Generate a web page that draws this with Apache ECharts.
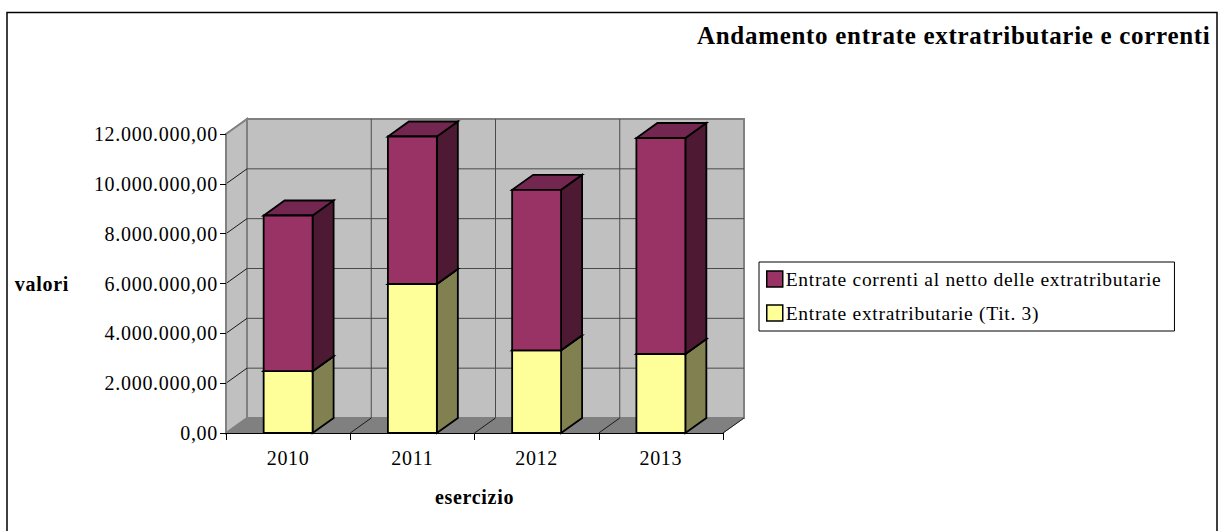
<!DOCTYPE html>
<html><head><meta charset="utf-8">
<style>html,body{margin:0;padding:0;background:#fff}#c{width:1218px;height:531px}#c text{letter-spacing:.7px}</style>
<script src="https://cdn.jsdelivr.net/npm/echarts@6/dist/echarts.min.js"></script>
</head><body><div id="c"></div>
<script>
var categories = ['2010','2011','2012','2013'];
var extratributarie = [2480000, 5980000, 3320000, 3170000];
var correnti = [6250000, 5920000, 6440000, 8670000];
var axisTicks = [0, 2000000, 4000000, 6000000, 8000000, 10000000, 12000000];
var seriesNames = ['Entrate correnti al netto delle extratributarie', 'Entrate extratributarie (Tit. 3)'];
var titleText = 'Andamento entrate extratributarie e correnti';
var yName = 'valori', xName = 'esercizio';

var DX = 21, DY = 15, BAR_RATIO = 0.394;
var SERIF = '"Liberation Serif","Times New Roman",serif';
function fmt(v){
  var s = String(Math.round(v)).replace(/\B(?=(\d{3})+$)/g, '.');
  return s + ',00';
}
function poly(pts, fill, stroke, lw){
  return {type:'polygon', shape:{points:pts}, style:{fill:fill, stroke:stroke, lineWidth:lw, lineJoin:'miter'}};
}
function line(a, b, stroke, lw){
  return {type:'line', shape:{x1:a[0],y1:a[1],x2:b[0],y2:b[1]}, style:{stroke:stroke, lineWidth:lw, fill:null}};
}
function wallRender(params, api){
  var n = categories.length;
  var yMin = axisTicks[0], yMax = axisTicks[axisTicks.length-1];
  var bl = api.coord([0, yMin]), tl = api.coord([0, yMax]);
  var band = api.size([1,0])[0];
  var left = bl[0] - band/2, right = left + band*n;
  var y0 = bl[1], y1 = tl[1];
  var kids = [];
  kids.push(poly([[left,y0],[left+DX,y0-DY],[left+DX,y1-DY],[left,y1]], '#c0c0c0', '#808080', 2));
  kids.push(poly([[left+DX,y1-DY],[right+DX,y1-DY],[right+DX,y0-DY],[left+DX,y0-DY]], '#c0c0c0', '#808080', 2));
  kids.push(poly([[left,y0],[right,y0],[right+DX,y0-DY],[left+DX,y0-DY]], '#808080', '#808080', 1));
  axisTicks.forEach(function(t){
    var y = api.coord([0,t])[1];
    if (t !== yMin && t !== yMax) {
      kids.push(line([left+DX,y-DY],[right+DX,y-DY],'#4a4a4a',1));
      kids.push(line([left,y],[left+DX,y-DY],'#1a1a1a',1));
    }
  });
  for (var i=1;i<=n;i++){
    var x = left + band*i;
    kids.push(line([x,y0],[x+DX,y0-DY],'#1a1a1a',1));
    if (i<n) kids.push(line([x+DX,y1-DY],[x+DX,y0-DY],'#4a4a4a',1));
  }
  return {type:'group', children:kids};
}
function barRender(front, top, side){
  return function(params, api){
    var c = api.value(0), a = api.value(1), b = api.value(2);
    var p0 = api.coord([c,a]), p1 = api.coord([c,b]);
    var w = api.size([1,0])[0]*BAR_RATIO;
    var l = p0[0]-w/2, r = p0[0]+w/2, yb = p0[1], yt = p1[1];
    var S='#000', LW=1.8;
    return {type:'group', children:[
      poly([[r,yb],[r+DX,yb-DY],[r+DX,yt-DY],[r,yt]], side, S, LW),
      poly([[l,yt],[r,yt],[r+DX,yt-DY],[l+DX,yt-DY]], top, S, LW),
      poly([[l,yb],[r,yb],[r,yt],[l,yt]], front, S, LW)
    ]};
  };
}
var lower = categories.map(function(c,i){return [i,0,extratributarie[i]];});
var upper = categories.map(function(c,i){return [i,extratributarie[i],extratributarie[i]+correnti[i]];});

var chart = echarts.init(document.getElementById('c'), null, {renderer:'svg'});
chart.setOption({
  animation:false,
  backgroundColor:'#fff',
  title:{text:titleText,left:697,top:23,padding:0,textStyle:{fontFamily:SERIF,fontWeight:'bold',fontSize:25,color:'#000'}},
  legend:{
    orient:'vertical',left:759,top:262,padding:[7,46,8,7],itemGap:14,itemWidth:16,itemHeight:16,
    borderColor:'#000',borderWidth:1,align:'left',selectedMode:false,
    textStyle:{fontFamily:SERIF,fontSize:19.5,color:'#000',padding:[0,0,0,-2]},
    data:[
      {name:seriesNames[0],icon:'rect',itemStyle:{color:'#993366',borderColor:'#000',borderWidth:1.5}},
      {name:seriesNames[1],icon:'rect',itemStyle:{color:'#ffff99',borderColor:'#000',borderWidth:1.5}}
    ]
  },
  grid:{left:226,right:495,top:134,bottom:98,containLabel:false,outerBoundsMode:'none'},
  xAxis:{type:'category',data:categories,z:2,name:xName,nameLocation:'middle',nameGap:54,
    nameTextStyle:{fontFamily:SERIF,fontWeight:'bold',fontSize:20,color:'#000'},
    axisLine:{lineStyle:{color:'#000',width:1}},axisTick:{show:true,length:7,alignWithLabel:false,lineStyle:{color:'#000'}},
    axisLabel:{fontFamily:SERIF,fontSize:20,color:'#000',margin:15},splitLine:{show:false}},
  yAxis:{type:'value',min:0,max:12000000,interval:2000000,z:2,name:yName,nameLocation:'middle',nameRotate:0,nameGap:157,
    nameTextStyle:{fontFamily:SERIF,fontWeight:'bold',fontSize:20,color:'#000'},
    axisLine:{show:true,lineStyle:{color:'#808080',width:2}},axisTick:{show:true,length:6,lineStyle:{color:'#000'}},
    axisLabel:{fontFamily:SERIF,fontSize:20,color:'#000',margin:8,formatter:fmt},splitLine:{show:false}},
  graphic:[{type:'polyline',silent:true,z:-1,shape:{points:[[7,531],[7,12.5],[1217,12.5],[1217,531]]},style:{fill:'none',stroke:'#000',lineWidth:1.5}}],
  series:[
    {type:'custom',name:'wall',z:1,silent:true,renderItem:wallRender,data:[[0,0,0]],encode:{x:0,y:1},clip:false,tooltip:{show:false}},
    {type:'custom',name:seriesNames[1],z:3,renderItem:barRender('#ffff99','#cccc7a','#808050'),data:lower,encode:{x:0,y:[1,2]},itemStyle:{color:'#ffff99'}},
    {type:'custom',name:seriesNames[0],z:4,renderItem:barRender('#993366','#732650','#4d1933'),data:upper,encode:{x:0,y:[1,2]},itemStyle:{color:'#993366'}}
  ]
});
</script></body></html>
